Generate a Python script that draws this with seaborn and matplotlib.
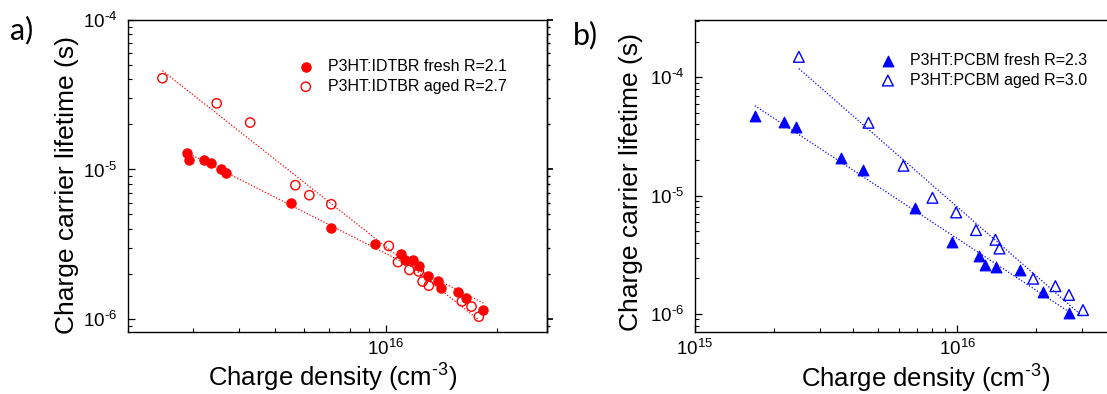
import numpy as np
import pandas as pd
import matplotlib
matplotlib.use("Agg")
import matplotlib.pyplot as plt
import matplotlib.ticker as mticker
import seaborn as sns

# ---------------- data ----------------
a_fresh_n = [2.89e15, 2.92e15, 3.22e15, 3.35e15, 3.57e15, 3.68e15, 5.53e15, 7.13e15,
             9.33e15, 1.10e16, 1.13e16, 1.19e16, 1.23e16, 1.30e16, 1.39e16, 1.41e16,
             1.57e16, 1.65e16, 1.84e16]
a_fresh_tau = [1.29e-5, 1.15e-5, 1.15e-5, 1.10e-5, 1.00e-5, 9.5e-6, 5.97e-6, 4.06e-6,
               3.17e-6, 2.72e-6, 2.49e-6, 2.49e-6, 2.25e-6, 1.95e-6, 1.80e-6, 1.61e-6,
               1.51e-6, 1.39e-6, 1.15e-6]
a_aged_n = [2.48e15, 3.48e15, 4.29e15, 5.69e15, 6.21e15, 7.12e15, 1.02e16, 1.08e16,
            1.16e16, 1.23e16, 1.26e16, 1.31e16, 1.61e16, 1.71e16, 1.79e16]
a_aged_tau = [4.08e-5, 2.77e-5, 2.06e-5, 7.85e-6, 6.73e-6, 5.85e-6, 3.08e-6, 2.40e-6,
              2.13e-6, 2.08e-6, 1.78e-6, 1.67e-6, 1.31e-6, 1.21e-6, 1.035e-6]

b_fresh_n = [1.69e15, 2.18e15, 2.43e15, 3.59e15, 4.37e15, 6.93e15, 9.55e15, 1.21e16,
             1.28e16, 1.41e16, 1.73e16, 2.12e16, 2.67e16]
b_fresh_tau = [4.71e-5, 4.17e-5, 3.78e-5, 2.07e-5, 1.65e-5, 7.81e-6, 4.03e-6, 3.08e-6,
               2.59e-6, 2.49e-6, 2.35e-6, 1.54e-6, 1.03e-6]
b_aged_n = [2.49e15, 4.59e15, 6.24e15, 8.05e15, 9.91e15, 1.18e16, 1.40e16, 1.45e16,
            1.95e16, 2.37e16, 2.67e16, 3.02e16]
b_aged_tau = [1.49e-4, 4.13e-5, 1.79e-5, 9.6e-6, 7.22e-6, 5.12e-6, 4.24e-6, 3.58e-6,
              1.99e-6, 1.72e-6, 1.45e-6, 1.08e-6]

a_labels = ["P3HT:IDTBR fresh R=2.1", "P3HT:IDTBR aged R=2.7"]
b_labels = ["P3HT:PCBM fresh R=2.3", "P3HT:PCBM aged R=3.0"]
panel_tags = ["a)", "b)"]
x_label = "Charge density (cm$^{\u2010 3}$)"
y_label = "Charge carrier lifetime (s)"

# ---------------- style ----------------
sns.set_theme(style="ticks")
plt.rcParams["font.family"] = ["Liberation Sans", "DejaVu Sans"]
plt.rcParams["mathtext.fontset"] = "custom"
plt.rcParams["mathtext.rm"] = "Liberation Sans"
plt.rcParams["mathtext.it"] = "Liberation Sans:italic"
plt.rcParams["mathtext.bf"] = "Liberation Sans:bold"
plt.rcParams["axes.linewidth"] = 1.0
for key in ["text.color", "axes.labelcolor", "xtick.color", "ytick.color", "axes.edgecolor"]:
    plt.rcParams[key] = "black"

W, H = 1107, 394
fig = plt.figure(figsize=(W / 100, H / 100), dpi=100)

def frac(l, r, t, b):
    return [l / W, (H - b) / H, (r - l) / W, (b - t) / H]

axA = fig.add_axes(frac(128, 547, 20, 332))
axB = fig.add_axes(frac(695, 1115, 20, 332))

RED = "#ff0000"
BLUE = "#0000ff"


def pow10_label(v, pos):
    e = int(round(np.log10(v)))
    if e < 0:
        return "$10^{\u2010%d}$" % (-e)
    return "$10^{%d}$" % e


def fit_line(ax, n, tau, color):
    lx = np.log10(n)
    ly = np.log10(tau)
    k, c = np.polyfit(lx, ly, 1)
    xs = np.linspace(lx.min(), lx.max(), 50)
    df = pd.DataFrame({"n": 10 ** xs, "tau": 10 ** (k * xs + c)})
    sns.lineplot(data=df, x="n", y="tau", ax=ax, color=color, lw=0.9,
                 linestyle=(0, (1, 1.5)), legend=False)


def style_axis(ax, xlim, ylim, xmajor):
    ax.set_xscale("log")
    ax.set_yscale("log")
    ax.set_xlim(*xlim)
    ax.set_ylim(*ylim)
    ax.xaxis.set_major_locator(mticker.FixedLocator(xmajor))
    ax.xaxis.set_major_formatter(mticker.FuncFormatter(pow10_label))
    ax.xaxis.set_minor_locator(mticker.LogLocator(base=10, subs=np.arange(2, 10)))
    ax.xaxis.set_minor_formatter(mticker.NullFormatter())
    ax.yaxis.set_major_locator(mticker.LogLocator(base=10, numticks=10))
    ax.yaxis.set_major_formatter(mticker.FuncFormatter(pow10_label))
    ax.yaxis.set_minor_locator(mticker.LogLocator(base=10, subs=np.arange(2, 10), numticks=10))
    ax.yaxis.set_minor_formatter(mticker.NullFormatter())
    ax.tick_params(which="both", direction="in", top=False, right=False,
                   labelsize=13.5, colors="black")
    ax.tick_params(which="major", length=5, width=0.9)
    ax.tick_params(which="minor", length=3, width=0.8)
    ax.tick_params(axis="y", pad=8)
    ax.tick_params(axis="x", pad=5)
    for s in ax.spines.values():
        s.set_visible(True)
        s.set_color("black")
    ax.set_xlabel(x_label, fontsize=18.5)
    ax.set_ylabel(y_label, fontsize=19)
    ax.grid(False)


# ---------------- panel a ----------------
fit_line(axA, a_fresh_n, a_fresh_tau, RED)
fit_line(axA, a_aged_n, a_aged_tau, RED)
sns.scatterplot(x=a_fresh_n, y=a_fresh_tau, ax=axA, marker="o", s=45,
                color=RED, edgecolor=RED, linewidth=0.8, label=a_labels[0], zorder=3)
sns.scatterplot(x=a_aged_n, y=a_aged_tau, ax=axA, marker="o", s=45,
                facecolor="none", edgecolor=RED, linewidth=1.0, label=a_labels[1], zorder=3)
style_axis(axA, (2e15, 2.74e16), (8.18e-7, 1e-4), [1e16])
sec = axA.secondary_yaxis("right")
sec.set_yscale("log")
sec.yaxis.set_minor_locator(mticker.LogLocator(base=10, subs=np.arange(2, 10), numticks=10))
sec.tick_params(which="both", direction="out", labelright=False, colors="black")
sec.tick_params(which="major", length=4)
sec.tick_params(which="minor", length=2.5)
axA.yaxis.set_label_coords(-0.118, 0.47)
axA.xaxis.set_label_coords(0.489, -0.095)
axA.legend(loc="upper left", bbox_to_anchor=(0.39, 0.895), borderaxespad=0,
           frameon=False, fontsize=11.5, handlelength=1.0, handletextpad=0.9,
           labelspacing=0.3, markerscale=1.0)

# ---------------- panel b ----------------
fit_line(axB, b_fresh_n, b_fresh_tau, BLUE)
fit_line(axB, b_aged_n, b_aged_tau, BLUE)
sns.scatterplot(x=b_fresh_n, y=b_fresh_tau, ax=axB, marker="^", s=60,
                color=BLUE, edgecolor=BLUE, linewidth=0.8, label=b_labels[0], zorder=3)
sns.scatterplot(x=b_aged_n, y=b_aged_tau, ax=axB, marker="^", s=60,
                facecolor="none", edgecolor=BLUE, linewidth=1.0, label=b_labels[1], zorder=3)
style_axis(axB, (1e15, 4.0e16), (7.05e-7, 3.05e-4), [1e15, 1e16])
axB.yaxis.set_label_coords(-0.124, 0.48)
axB.xaxis.set_label_coords(0.548, -0.10)
axB.legend(loc="upper left", bbox_to_anchor=(0.425, 0.915), borderaxespad=0,
           frameon=False, fontsize=11.5, handlelength=1.0, handletextpad=0.9,
           labelspacing=0.3, markerscale=1.0)

# panel tags
fig.text(22 / W, 1 - 30 / H, panel_tags[0], fontsize=22, family=["Lato", "DejaVu Sans"],
         ha="center", va="center")
fig.text(585 / W, 1 - 35 / H, panel_tags[1], fontsize=22, family=["Lato", "DejaVu Sans"],
         ha="center", va="center")

fig.savefig("out.png", dpi=100)
